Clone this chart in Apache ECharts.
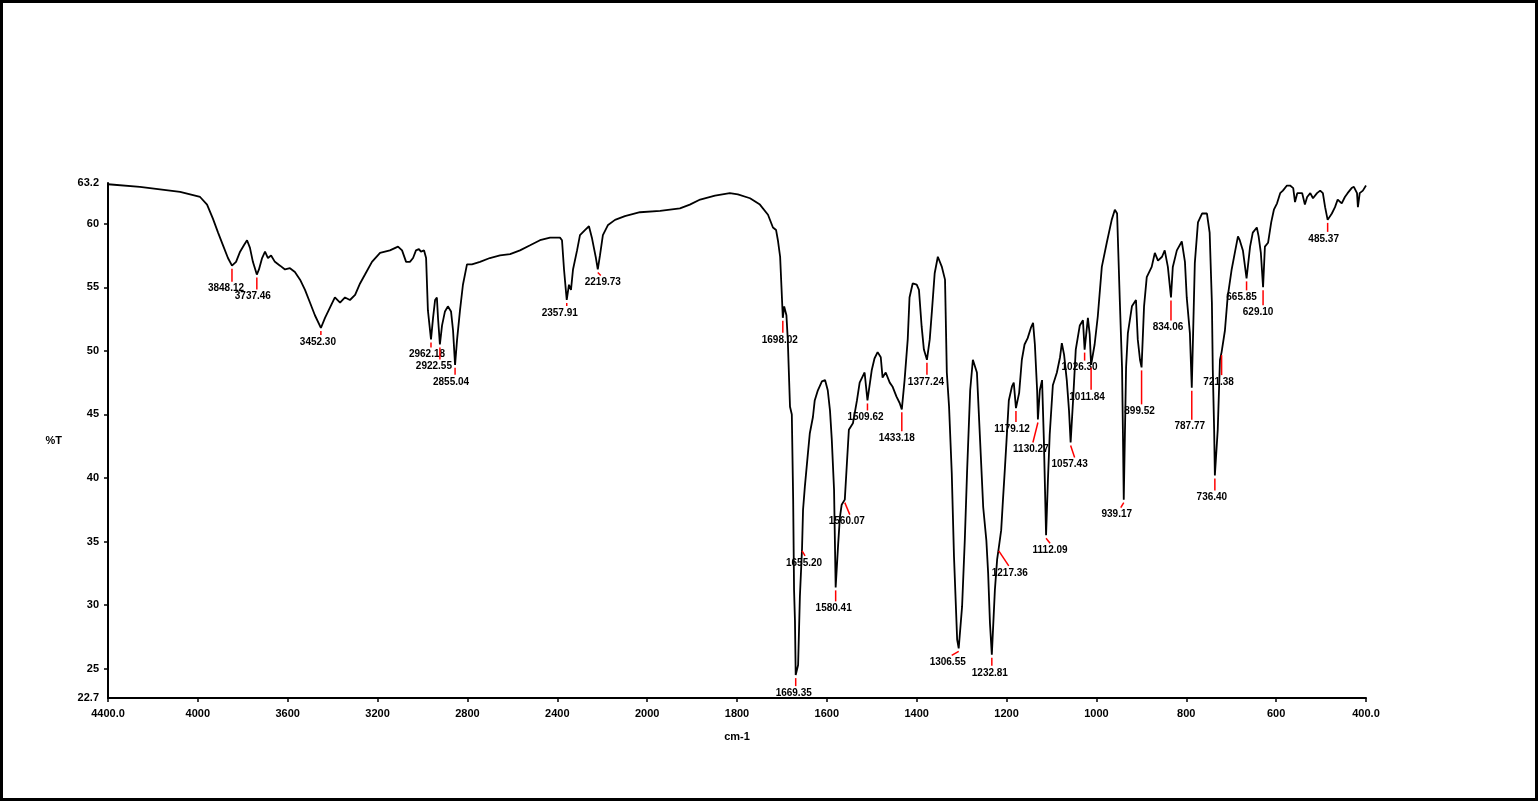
<!DOCTYPE html>
<html>
<head>
<meta charset="utf-8">
<title>IR spectrum</title>
<script src="https://cdn.jsdelivr.net/npm/echarts@6/dist/echarts.min.js"></script>
<style>
  html, body { margin: 0; padding: 0; background: #fff; }
  #chart { width: 1539px; height: 802px; }
</style>
</head>
<body>
<div id="chart"></div>
<script>
// Wavenumber axis ticks (cm-1); the scale changes at 2000, each tick is one equal step
const X_TICKS = [4400, 4000, 3600, 3200, 2800, 2400, 2000, 1800, 1600, 1400, 1200, 1000, 800, 600, 400];
// Transmittance axis
const Y_MIN = 22.7;
const Y_MAX = 63.2;
const Y_TICKS = [25, 30, 35, 40, 45, 50, 55, 60];

// Spectrum: wavenumber (cm-1)
const WAVENUMBER = [
  4400, 4258, 4079, 3990, 3959, 3933, 3910, 3888, 3866, 3848.12, 3830, 3812, 3795, 3781, 3768, 3755, 3737.46,
  3728, 3714, 3701, 3688, 3674, 3657, 3634, 3612, 3590, 3568, 3545, 3523, 3501, 3479, 3452.30, 3434, 3412,
  3390, 3367, 3345, 3323, 3300, 3278, 3256, 3225, 3189, 3145, 3109, 3091, 3073, 3056, 3042, 3029, 3016,
  3007, 2993, 2984, 2976, 2962.18, 2953, 2944, 2936, 2931, 2922.55, 2913, 2900, 2887, 2873, 2864, 2855.04,
  2846, 2833, 2820, 2802, 2780, 2744, 2700, 2655, 2610, 2566, 2521, 2477, 2432, 2388, 2379, 2370, 2362,
  2357.91, 2348, 2339, 2330, 2312, 2299, 2277, 2259, 2246, 2237, 2228, 2219.73, 2210, 2197, 2174, 2143,
  2099, 2032, 1971, 1927, 1905, 1882, 1849, 1816, 1798, 1771, 1749, 1731, 1720, 1713, 1709, 1704, 1701,
  1698.02, 1695, 1690, 1687, 1682, 1678, 1675, 1673, 1671, 1669.35, 1664, 1660, 1655.20, 1653, 1649, 1642,
  1638, 1631, 1627, 1620, 1611, 1604, 1598, 1593, 1589, 1584, 1580.41, 1575, 1571, 1567, 1560.07, 1555,
  1551, 1542, 1533, 1527, 1516, 1509.62, 1500, 1494, 1487, 1480, 1476, 1469, 1460, 1454, 1445, 1438,
  1433.18, 1427, 1420, 1416, 1409, 1400, 1395, 1389, 1384, 1377.24, 1371, 1366, 1360, 1353, 1344, 1337,
  1333, 1328, 1322, 1317, 1310, 1306.55, 1299, 1293, 1288, 1281, 1275, 1266, 1259, 1252, 1245, 1241, 1237,
  1232.81, 1226, 1221, 1217.36, 1212, 1208, 1204, 1200, 1195, 1188, 1184, 1179.12, 1172, 1166, 1160, 1153,
  1146, 1141, 1137, 1132, 1130.27, 1126, 1121, 1117, 1112.09, 1108, 1104, 1097, 1088, 1081, 1077, 1072,
  1066, 1061, 1057.43, 1052, 1046, 1037, 1030, 1026.30, 1019, 1015, 1011.84, 1004, 997, 988, 977, 966,
  959, 954, 948, 943, 941, 939.17, 934, 930, 921, 912, 908, 903, 899.52, 894, 888, 877, 870, 863, 854, 848,
  841, 834.06, 830, 821, 810, 803, 799, 792, 787.77, 781, 774, 765, 754, 748, 743, 741, 738, 736.40, 730,
  725, 721.38, 714, 708, 699, 692, 685, 681, 674, 665.85, 658, 652, 643, 639, 634, 629.10, 625, 618, 611,
  605, 598, 591, 585, 576, 569, 562, 558, 553, 542, 536, 531, 524, 518, 509, 502, 496, 491, 485.37, 476,
  469, 463, 454, 447, 441, 432, 427, 420, 418, 414, 407, 400
];
// Spectrum: transmittance (%T)
const TRANSMITTANCE = [
  63.1, 62.9, 62.5, 62.1, 61.5, 60.4, 59.3, 58.3, 57.3, 56.7, 57.0, 57.8, 58.3, 58.7, 58.1, 57.0, 56.0,
  56.4, 57.3, 57.8, 57.3, 57.5, 57.0, 56.7, 56.4, 56.5, 56.2, 55.6, 54.8, 53.8, 52.8, 51.8, 52.6, 53.4,
  54.2, 53.8, 54.2, 54.0, 54.4, 55.3, 56.0, 57.0, 57.7, 57.9, 58.2, 57.9, 57.0, 57.0, 57.3, 57.9, 58.0,
  57.8, 57.9, 57.3, 53.2, 50.9, 52.6, 54.0, 54.2, 52.6, 50.5, 52.0, 53.1, 53.5, 53.1, 51.6, 48.9,
  50.9, 53.2, 55.2, 56.8, 56.8, 57.0, 57.3, 57.5, 57.6, 57.9, 58.3, 58.7, 58.9, 58.9, 58.7, 56.4, 54.8,
  54.0, 55.2, 54.8, 56.4, 57.9, 59.1, 59.5, 59.8, 58.9, 58.1, 57.3, 56.4, 57.5, 59.1, 59.9, 60.3,
  60.6, 60.9, 61.0, 61.2, 61.5, 61.9, 62.2, 62.4, 62.3, 62.0, 61.5, 60.7, 59.7, 59.5, 58.7, 57.4, 55.0,
  52.6, 53.5, 52.8, 50.9, 45.6, 45.0, 38.3, 31.2, 28.8, 24.5, 25.3, 30.7, 34.5, 37.5, 39.3, 42.0,
  43.5, 44.8, 46.1, 46.9, 47.6, 47.7, 46.9, 45.3, 43.0, 39.1, 31.4, 34.7, 36.9, 37.9, 38.3, 41.4,
  43.8, 44.3, 46.1, 47.5, 48.3, 46.1, 48.5, 49.4, 49.9, 49.5, 47.9, 48.3, 47.5, 47.2, 46.4, 45.9,
  45.4, 47.7, 50.9, 54.2, 55.3, 55.2, 54.8, 51.9, 50.1, 49.3, 50.9, 53.2, 56.1, 57.4, 56.6, 55.6,
  48.3, 45.6, 40.4, 33.8, 27.3, 26.6, 29.9, 35.1, 40.4, 46.9, 49.3, 48.3, 43.0, 37.7, 35.1, 32.5, 28.6,
  26.1, 31.2, 33.6, 34.5, 35.9, 38.3, 40.6, 43.0, 46.1, 47.2, 47.5, 45.5, 46.7, 49.3, 50.5, 51.0,
  51.8, 52.2, 50.5, 46.9, 44.6, 46.9, 47.7, 43.0, 35.5, 39.8, 43.4, 47.3, 48.3, 49.5, 50.6, 49.7,
  47.7, 45.3, 42.8, 46.1, 50.1, 52.0, 52.4, 50.1, 52.6, 51.3, 48.9, 50.5, 52.7, 56.6, 58.5, 60.3,
  61.1, 60.8, 54.0, 48.7, 43.5, 38.3, 48.7, 51.4, 53.5, 54.0, 50.9, 49.3, 48.7, 53.5, 55.8, 56.6, 57.7, 57.1, 57.4, 57.9,
  56.6, 54.2, 56.6, 57.9, 58.6, 57.0, 54.2, 51.4, 47.1, 56.9, 60.1, 60.8, 60.8, 59.3, 53.8, 48.5, 43.8, 40.2, 43.8,
  49.3, 49.9, 51.6, 54.2, 56.4, 57.7, 59.0, 58.7, 57.9, 55.7, 58.2, 59.3, 59.7, 59.0, 57.7, 55.0, 58.2, 58.5, 60.1,
  61.1, 61.6, 62.4, 62.6, 63.0, 63.0, 62.8, 61.7, 62.4, 62.4, 61.5, 62.1, 62.4, 62.0, 62.4, 62.6, 62.4, 61.3, 60.3, 60.8,
  61.3, 61.9, 61.6, 62.1, 62.4, 62.8, 62.9, 62.4, 61.3, 62.4, 62.6, 63.0
];

// Labelled absorption peaks (cm-1); each one is also a point of the spectrum above
const PEAKS = [
  3848.12, 3737.46, 3452.30, 2962.18, 2922.55, 2855.04, 2357.91, 2219.73, 1698.02, 1669.35, 1655.20,
  1580.41, 1560.07, 1509.62, 1433.18, 1377.24, 1306.55, 1232.81, 1217.36, 1179.12, 1130.27, 1112.09,
  1057.43, 1026.30, 1011.84, 939.17, 899.52, 834.06, 787.77, 736.40, 721.38, 665.85, 629.10, 485.37
];

// Leader layout for each peak label: drop length, sideways lean, text nudge (px)
const LEADER_DROP  = [13, 12, 4, 5, 12, 7, 3, 3, 12, 8, 5, 11, 12, 7, 19, 12, 4, 8, 15, 11, 20, 5, 12, 8, 22, 5, 34, 20, 29, 12, 20, 9, 15, 9];
const LEADER_LEAN  = [0, 0, 0, 0, 0, 0, 0, 3, 0, 0, 3, 0, 5, 0, 0, 0, -7, 0, 10, 0, -5, 4, 4, 0, 0, -3, 0, 0, 0, 0, 0, 0, 0, 0];
const LABEL_NUDGE  = [-6, -4, -3, -4, -6, -4, -7, 2, -3, -2, -1, -2, -3, -2, -5, -1, -4, -2, 1, -4, -2, 0, -5, -5, -4, -4, -2, -3, -2, -3, -3, -5, -5, -4];

// Piecewise-linear wavenumber scale: one unit per tick step
function toStep(w) {
  for (let i = 0; i < X_TICKS.length - 1; i++) {
    const a = X_TICKS[i], b = X_TICKS[i + 1];
    if (w <= a && w >= b) return i + (a - w) / (a - b);
  }
  return w > X_TICKS[0] ? 0 : X_TICKS.length - 1;
}

const spectrum = WAVENUMBER.map((w, i) => [toStep(w), TRANSMITTANCE[i]]);
const peakPoints = PEAKS.map((w, i) => {
  const k = WAVENUMBER.indexOf(w);
  return [toStep(w), TRANSMITTANCE[k], i];
});

const FONT = '"Liberation Sans", Arial, sans-serif';
const chart = echarts.init(document.getElementById('chart'), null, { renderer: 'canvas' });

chart.setOption({
  animation: false,
  backgroundColor: '#ffffff',
  graphic: [{
    type: 'rect',
    shape: { x: 1.5, y: 1.5, width: 1535, height: 798 },
    style: { fill: 'none', stroke: '#000', lineWidth: 3 },
    silent: true
  }],
  grid: { left: 108, right: 173, top: 183, bottom: 104, containLabel: false },
  xAxis: {
    type: 'value',
    min: 0,
    max: X_TICKS.length - 1,
    interval: 1,
    name: 'cm-1',
    nameLocation: 'middle',
    nameGap: 33,
    nameTextStyle: { color: '#000', fontSize: 11, fontWeight: 'bold', fontFamily: FONT },
    axisLine: { show: true, onZero: false, lineStyle: { color: '#000', width: 2 } },
    axisTick: { show: true, length: 4, lineStyle: { color: '#000', width: 1.5 } },
    axisLabel: {
      color: '#000', fontSize: 11, fontWeight: 'bold', fontFamily: FONT, margin: 10,
      formatter: (v) => {
        const i = Math.round(v);
        const w = X_TICKS[i];
        return (i === 0 || i === X_TICKS.length - 1) ? w.toFixed(1) : String(w);
      }
    },
    splitLine: { show: false }
  },
  yAxis: {
    type: 'value',
    min: Y_MIN,
    max: Y_MAX,
    name: '%T',
    nameLocation: 'middle',
    nameRotate: 0,
    nameGap: 46,
    nameTextStyle: { color: '#000', fontSize: 11, fontWeight: 'bold', fontFamily: FONT },
    axisLine: { show: true, onZero: false, lineStyle: { color: '#000', width: 2 } },
    axisTick: { show: true, length: 4, customValues: Y_TICKS, lineStyle: { color: '#000', width: 1.5 } },
    axisLabel: {
      color: '#000', fontSize: 11, fontWeight: 'bold', fontFamily: FONT, margin: 9,
      customValues: [Y_MIN].concat(Y_TICKS, [Y_MAX]),
      formatter: (v) => (v === Y_MIN || v === Y_MAX) ? v.toFixed(1) : String(Math.round(v))
    },
    splitLine: { show: false }
  },
  series: [
    {
      type: 'line',
      data: spectrum,
      showSymbol: false,
      symbol: 'none',
      smooth: false,
      lineStyle: { color: '#000', width: 1.8 },
      z: 2
    },
    {
      type: 'custom',
      data: peakPoints,
      clip: false,
      z: 3,
      renderItem: (params, api) => {
        const i = api.value(2);
        const p = api.coord([api.value(0), api.value(1)]);
        const x0 = p[0], y0 = p[1] + 3;
        const x1 = x0 + LEADER_LEAN[i], y1 = y0 + LEADER_DROP[i];
        return {
          type: 'group',
          children: [
            { type: 'line', shape: { x1: x0, y1: y0, x2: x1, y2: y1 },
              style: { stroke: '#ff0000', lineWidth: 1.5 } },
            { type: 'text', x: x1 + LABEL_NUDGE[i], y: y1 + 7,
              style: { text: PEAKS[i].toFixed(2), fill: '#000',
                       font: 'bold 10px ' + FONT, align: 'center', verticalAlign: 'middle' } }
          ]
        };
      }
    }
  ]
});
</script>
</body>
</html>
